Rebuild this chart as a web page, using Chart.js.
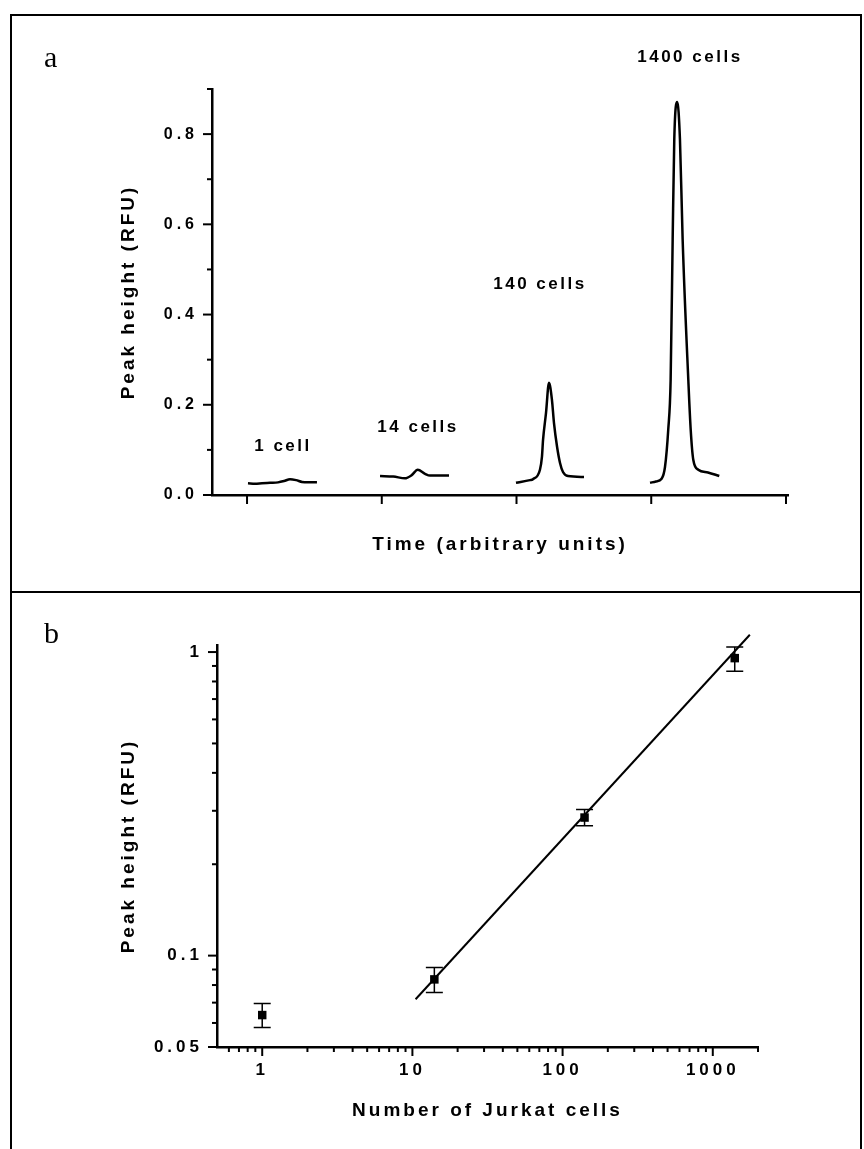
<!DOCTYPE html>
<html>
<head>
<meta charset="utf-8">
<script src="https://cdn.jsdelivr.net/npm/chart.js@4.4.1/dist/chart.umd.min.js"></script>
<style>
  body { margin: 0; background: #fff; }
  .panel { position: absolute; left: 0; width: 864px; }
  .frame { position: absolute; background: #000; }
  .tag { position: absolute; font: 30px/30px "Liberation Serif", "Times New Roman", serif; color: #000; }
</style>
</head>
<body>
<div class="panel" style="top:0;height:592px"><canvas id="peaks"></canvas></div>
<div class="panel" style="top:592px;height:557px"><canvas id="calib"></canvas></div>
<div class="frame" style="left:10px;top:14px;width:852px;height:2px"></div>
<div class="frame" style="left:10px;top:14px;width:2px;height:1135px"></div>
<div class="frame" style="left:860px;top:14px;width:2px;height:1135px"></div>
<div class="frame" style="left:10px;top:591px;width:852px;height:2px"></div>
<div class="tag" style="left:44px;top:42px">a</div>
<div class="tag" style="left:44px;top:618px">b</div>
<script>
const FONT = '"Liberation Sans", Arial, sans-serif';

// panel a - traces, time in arbitrary units, height in RFU
const timeTicks = [10, 20, 30, 40, 50];
const rfuMajor = [0, 0.2, 0.4, 0.6, 0.8];
const rfuMinor = [0.1, 0.3, 0.5, 0.7, 0.9];

const t1 = [10.07, 10.59, 11.11, 11.71, 12.30, 12.75, 13.19, 13.64, 14.08, 14.53, 15.19];
const h1 = [0.026, 0.025, 0.026, 0.027, 0.028, 0.031, 0.035, 0.033, 0.029, 0.028, 0.028];

const t14 = [19.87, 20.86, 21.72, 22.22, 22.67, 23.21, 23.58, 24.32, 24.99];
const h14 = [0.042, 0.041, 0.037, 0.044, 0.056, 0.047, 0.043, 0.043, 0.043];

const t140 = [29.96, 31.00, 31.22, 31.74, 31.89, 31.97, 32.19, 32.41, 32.63, 32.78, 33.01, 33.23, 33.45, 33.82, 35.01];
const h140 = [0.027, 0.033, 0.035, 0.056, 0.085, 0.122, 0.182, 0.249, 0.211, 0.160, 0.107, 0.071, 0.051, 0.042, 0.040];

const t1400 = [39.91, 40.35, 40.77, 41.02, 41.26, 41.44, 41.59, 41.71, 41.93, 42.13, 42.33, 42.75, 42.93, 43.12, 43.49, 44.21, 45.05];
const h1400 = [0.027, 0.030, 0.036, 0.062, 0.144, 0.256, 0.567, 0.789, 0.871, 0.789, 0.567, 0.256, 0.144, 0.078, 0.056, 0.050, 0.042];

const peakNames = ['1 cell', '14 cells', '140 cells', '1400 cells'];

// panel b - calibration
const cells = [1, 14, 140, 1400];
const peakMean = [0.0637, 0.0835, 0.285, 0.955];
const peakLow = [0.058, 0.0756, 0.268, 0.865];
const peakHigh = [0.0696, 0.0913, 0.303, 1.04];
const fitCells = [10.5, 1765];
const fitPeak = [0.0718, 1.14];

const cellMajor = [1, 10, 100, 1000];
const cellMinor = [0.6, 0.7, 0.8, 0.9, 2, 3, 4, 5, 6, 7, 8, 9, 20, 30, 40, 50, 60, 70, 80, 90,
                   200, 300, 400, 500, 600, 700, 800, 900, 2000];
const logMajor = [0.05, 0.1, 1];
const logMinor = [0.06, 0.07, 0.08, 0.09, 0.2, 0.3, 0.4, 0.5, 0.6, 0.7, 0.8, 0.9];

// where the peak names sit (data units)
const notePos = [[12.67, 0.107], [22.69, 0.149], [31.74, 0.467], [42.87, 0.971]];

const pts = (xs, ys) => xs.map((x, i) => ({x, y: ys[i]}));
const bold = size => ({family: FONT, weight: 'bold', size});
const setTicks = vals => s => { s.ticks = vals.map(v => ({value: v})); };

const spacing = {
  id: 'spacing',
  beforeDraw(chart) { chart.ctx.letterSpacing = '3px'; },
  afterDatasetsDraw(chart) { chart.ctx.letterSpacing = '4px'; }
};

const tickMarks = {
  id: 'tickMarks',
  afterDraw(chart, args, opts) {
    const ctx = chart.ctx;
    ctx.save();
    ctx.strokeStyle = '#000';
    ctx.lineWidth = 2;
    ['x', 'y'].forEach(id => {
      const s = chart.scales[id];
      const spec = opts[id];
      [[spec.major, spec.majorLen], [spec.minor, spec.minorLen]].forEach(([vals, len]) => {
        vals.forEach(v => {
          const p = s.getPixelForValue(v);
          ctx.beginPath();
          if (id === 'x') { ctx.moveTo(p, s.top); ctx.lineTo(p, s.top + len); }
          else { ctx.moveTo(s.right, p); ctx.lineTo(s.right - len, p); }
          ctx.stroke();
        });
      });
    });
    ctx.restore();
  }
};

const notes = {
  id: 'notes',
  afterDatasetsDraw(chart) {
    const {ctx, scales: {x, y}} = chart;
    ctx.save();
    ctx.letterSpacing = '2.5px';
    ctx.font = 'bold 17px ' + FONT;
    ctx.fillStyle = '#000';
    ctx.textAlign = 'center';
    ctx.textBaseline = 'middle';
    peakNames.forEach((t, i) => {
      ctx.fillText(t, x.getPixelForValue(notePos[i][0]), y.getPixelForValue(notePos[i][1]));
    });
    ctx.restore();
  }
};

const errorBars = {
  id: 'errorBars',
  afterDatasetsDraw(chart) {
    const {ctx, scales: {x, y}} = chart;
    ctx.save();
    ctx.strokeStyle = '#000';
    ctx.lineWidth = 1.5;
    cells.forEach((c, i) => {
      const px = x.getPixelForValue(c);
      const lo = y.getPixelForValue(peakLow[i]);
      const hi = y.getPixelForValue(peakHigh[i]);
      ctx.beginPath();
      ctx.moveTo(px, lo); ctx.lineTo(px, hi);
      ctx.moveTo(px - 8.5, lo); ctx.lineTo(px + 8.5, lo);
      ctx.moveTo(px - 8.5, hi); ctx.lineTo(px + 8.5, hi);
      ctx.stroke();
    });
    ctx.restore();
  }
};

const peaks = new Chart(document.getElementById('peaks'), {
  type: 'scatter',
  data: {
    datasets: [[t1, h1], [t14, h14], [t140, h140], [t1400, h1400]].map(([xs, ys]) => ({
      data: pts(xs, ys),
      showLine: true,
      borderColor: '#000',
      borderWidth: 2.5,
      pointRadius: 0,
      cubicInterpolationMode: 'monotone',
      clip: false
    }))
  },
  options: {
    responsive: true,
    maintainAspectRatio: false,
    animation: false,
    devicePixelRatio: 1,
    layout: {padding: {top: 89, right: 76, bottom: 0, left: 0}},
    plugins: {
      legend: {display: false},
      tooltip: {enabled: false},
      tickMarks: {
        x: {major: timeTicks, majorLen: 9, minor: [], minorLen: 0},
        y: {major: rfuMajor, majorLen: 9, minor: rfuMinor, minorLen: 5}
      }
    },
    scales: {
      x: {
        type: 'linear', min: 7.4, max: 50.15,
        grid: {display: false, drawTicks: false},
        border: {color: '#000', width: 2.5},
        ticks: {display: false},
        afterBuildTicks: setTicks(timeTicks),
        afterFit: s => { s.height = 97; },
        title: {display: true, text: 'Time (arbitrary units)', color: '#000', font: bold(19), padding: {top: 0, bottom: 36}}
      },
      y: {
        min: 0, max: 0.9,
        grid: {display: false, drawTicks: false},
        border: {color: '#000', width: 2.5},
        ticks: {color: '#000', font: bold(16), padding: 14, z: 1, callback: v => v.toFixed(1)},
        afterBuildTicks: setTicks(rfuMajor),
        afterFit: s => { s.width = 212; },
        title: {display: true, text: 'Peak height (RFU)', color: '#000', font: bold(19), padding: {top: 117, bottom: 0}}
      }
    }
  },
  plugins: [spacing, tickMarks, notes]
});

const calib = new Chart(document.getElementById('calib'), {
  type: 'scatter',
  data: {
    datasets: [{
      data: pts(cells, peakMean),
      pointStyle: 'rect',
      pointRadius: 6,
      backgroundColor: '#000',
      borderColor: '#000',
      borderWidth: 0
    }, {
      data: pts(fitCells, fitPeak),
      showLine: true,
      pointRadius: 0,
      borderColor: '#000',
      borderWidth: 2,
      clip: false
    }]
  },
  options: {
    responsive: true,
    maintainAspectRatio: false,
    animation: false,
    devicePixelRatio: 1,
    layout: {padding: {top: 53, right: 106, bottom: 0, left: 0}},
    plugins: {
      legend: {display: false},
      tooltip: {enabled: false},
      tickMarks: {
        x: {major: cellMajor, majorLen: 9, minor: cellMinor, minorLen: 5},
        y: {major: logMajor, majorLen: 9, minor: logMinor, minorLen: 5}
      }
    },
    scales: {
      x: {
        type: 'logarithmic', min: 0.5, max: 2000,
        grid: {display: false, drawTicks: false},
        border: {color: '#000', width: 2.5},
        ticks: {color: '#000', font: bold(17), padding: 13, z: 1, callback: v => String(v)},
        afterBuildTicks: setTicks(cellMajor),
        afterFit: s => { s.height = 102; },
        title: {display: true, text: 'Number of Jurkat cells', color: '#000', font: bold(19), padding: {top: 0, bottom: 27}}
      },
      y: {
        type: 'logarithmic', min: 0.05, max: 1.055,
        grid: {display: false, drawTicks: false},
        border: {color: '#000', width: 2.5},
        ticks: {color: '#000', font: bold(17), padding: 14, z: 1, callback: v => String(v)},
        afterBuildTicks: setTicks(logMajor),
        afterFit: s => { s.width = 217; },
        title: {display: true, text: 'Peak height (RFU)', color: '#000', font: bold(19), padding: {top: 117, bottom: 0}}
      }
    }
  },
  plugins: [spacing, tickMarks, errorBars]
});
</script>
</body>
</html>
